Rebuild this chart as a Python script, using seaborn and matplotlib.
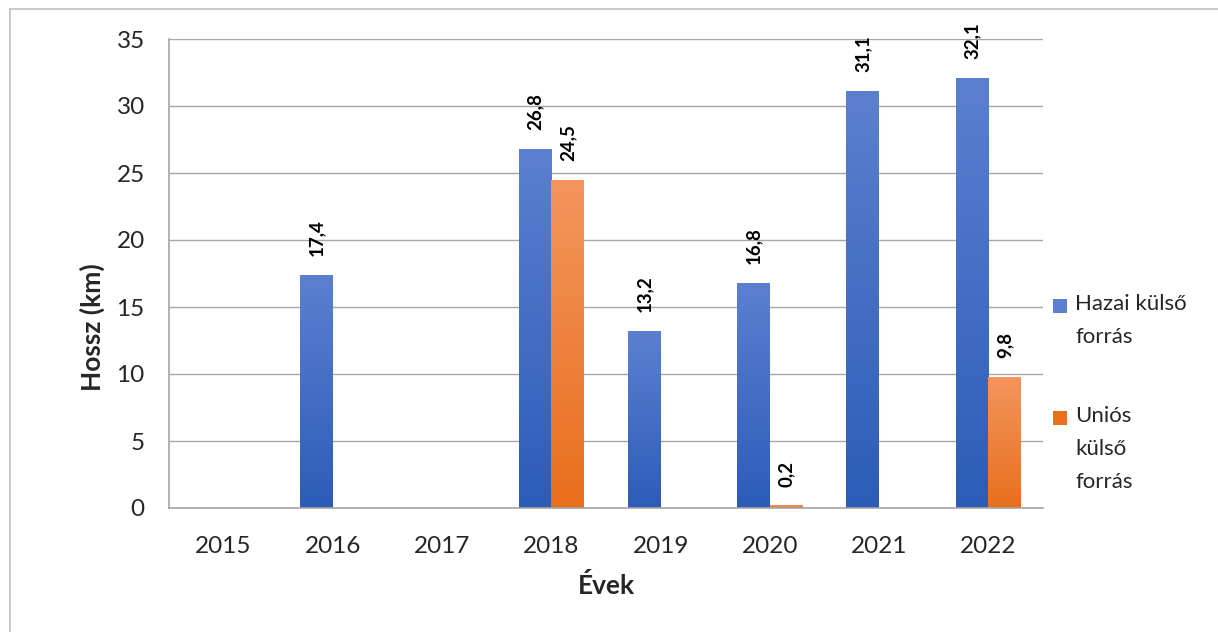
import numpy as np
import pandas as pd
import matplotlib
import matplotlib.pyplot as plt
import seaborn as sns
from matplotlib.colors import LinearSegmentedColormap
from matplotlib.patches import Rectangle

matplotlib.use('agg')

years = ['2015', '2016', '2017', '2018', '2019', '2020', '2021', '2022']
hazai = [0, 17.4, 0, 26.8, 13.2, 16.8, 31.1, 32.1]
unios = [0, 0, 0, 24.5, 0, 0.2, 0, 9.8]
series = ['Hazai külső forrás', 'Uniós külső forrás']
legend_labels = ['Hazai külső\nforrás', 'Uniós\nkülső\nforrás']

blue_top, blue_bot = '#5B80CF', '#2C5CB8'
orange_top, orange_bot = '#F4955E', '#E86F1C'

W, H = 1218, 632

df = pd.DataFrame({
    'year': years * 2,
    'value': hazai + unios,
    'series': [series[0]] * len(years) + [series[1]] * len(years),
})

sns.set_style('white')
plt.rcParams['font.family'] = ['Lato', 'DejaVu Sans']

fig = plt.figure(figsize=(W / 100, H / 100), dpi=100)
ax = fig.add_axes([169 / W, 1 - 508 / H, (1043 - 169) / W, (508 - 39) / H])

sns.barplot(data=df, x='year', y='value', hue='series', order=years,
            hue_order=series, palette=[blue_top, orange_top], width=0.6,
            saturation=1, ax=ax, legend=False)

# gradient fill for every bar
grads = [LinearSegmentedColormap.from_list('b', [blue_bot, blue_top]),
         LinearSegmentedColormap.from_list('o', [orange_bot, orange_top])]
n = len(years)
for i, bar in enumerate(ax.patches[:2 * n]):
    h = bar.get_height()
    if h <= 0:
        continue
    x0 = bar.get_x()
    w = bar.get_width()
    bar.set_facecolor('none')
    bar.set_edgecolor('none')
    g = np.linspace(0, 1, 256).reshape(-1, 1)
    im = ax.imshow(g, cmap=grads[i // n], origin='lower', aspect='auto',
                   extent=[x0, x0 + w, 0, h], zorder=2)
    im.set_clip_path(bar)
    ax.text(x0 + w / 2, h + 1.4, f'{h:.1f}'.replace('.', ','),
            rotation=90, ha='center', va='bottom', fontsize=13.5,
            fontweight='bold', color='black')

ax.set_xlim(-0.5, n - 0.5)
ax.set_ylim(0, 35)
ax.set_yticks(range(0, 36, 5))
ax.yaxis.grid(True, color='#A6A6A6', linewidth=1)
ax.set_axisbelow(True)

for s in ['top', 'right']:
    ax.spines[s].set_visible(False)
for s in ['left', 'bottom']:
    ax.spines[s].set_color('#A6A6A6')
    ax.spines[s].set_linewidth(1.2)

ax.set_xticks(np.arange(n))
ax.set_xticks(np.arange(n + 1) - 0.5, minor=True)
ax.tick_params(axis='x', which='major', length=0, labelsize=17.5, pad=20)
ax.tick_params(axis='x', which='minor', length=6.5, color='#A6A6A6', width=1.2)
ax.tick_params(axis='y', length=6.5, color='#A6A6A6', width=1.2, labelsize=17.5, pad=11)
ax.set_xlabel('Évek', fontsize=19, fontweight='bold')
ax.set_ylabel('Hossz (km)', fontsize=19, fontweight='bold')
ax.xaxis.set_label_coords(0.5, (508 - 585) / 469)
ax.yaxis.set_label_coords((92 - 169) / 874, (508 - 327) / 469)
ax.xaxis.label.set_va('center')
ax.yaxis.label.set_va('center')

# legend drawn in figure pixel positions, handle next to the first line
leg_colors = [blue_top, orange_bot]
leg_y = [306, 418]
for lab, col, y in zip(legend_labels, leg_colors, leg_y):
    fig.patches.append(Rectangle((1053 / W, 1 - (y + 7) / H), 14 / W, 14 / H,
                                 transform=fig.transFigure, facecolor=col,
                                 edgecolor='none'))
    fig.text(1075 / W, 1 - (y - 12) / H, lab, ha='left', va='top',
             fontsize=16, linespacing=1.8)

fig.patches.append(Rectangle((10 / W, -0.1), 1.2, 1.1 - 9 / H,
                             transform=fig.transFigure, fill=False,
                             edgecolor='#BFBFBF', linewidth=1.2))

fig.savefig('out.png', dpi=100)
plt.close(fig)
